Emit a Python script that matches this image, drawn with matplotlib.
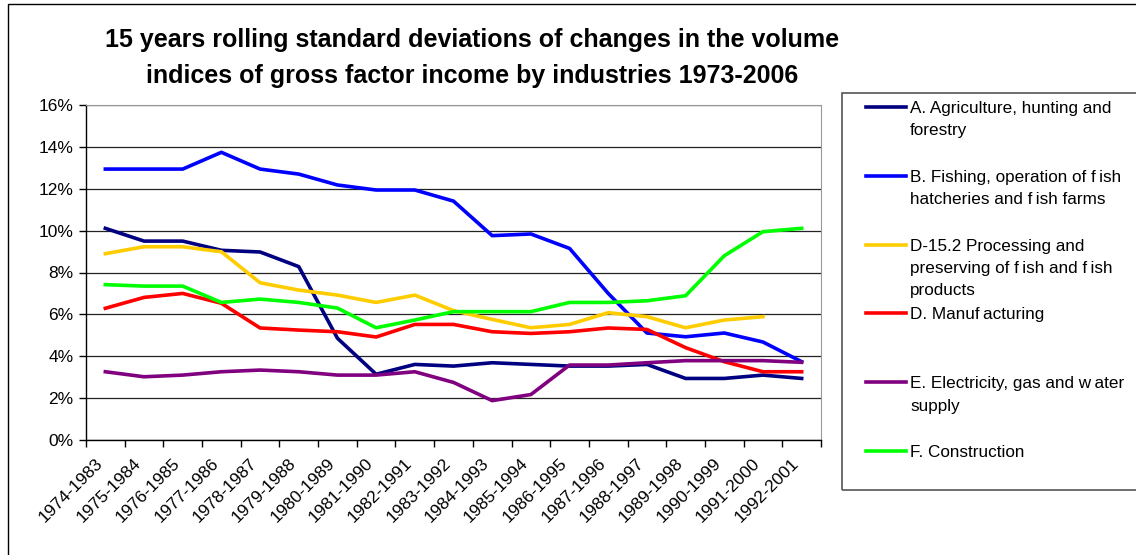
import matplotlib
matplotlib.use("Agg")
import matplotlib.pyplot as plt
from matplotlib.lines import Line2D
from matplotlib.patches import Rectangle
import numpy as np

plt.rcParams['font.family'] = ['Liberation Sans', 'DejaVu Sans']

# Periodos (ventanas de 10 anios)
periodos = ["1974-1983", "1975-1984", "1976-1985", "1977-1986", "1978-1987",
            "1979-1988", "1980-1989", "1981-1990", "1982-1991", "1983-1992",
            "1984-1993", "1985-1994", "1986-1995", "1987-1996", "1988-1997",
            "1989-1998", "1990-1999", "1991-2000", "1992-2001"]

# Desviaciones estandar (%)
agricultura = [10.11, 9.50, 9.50, 9.06, 8.98, 8.28, 4.86, 3.14, 3.61, 3.53,
               3.69, 3.61, 3.53, 3.53, 3.61, 2.94, 2.94, 3.10, 2.94]
pesca = [12.94, 12.94, 12.94, 13.74, 12.94, 12.70, 12.18, 11.94, 11.94, 11.41,
         9.76, 9.84, 9.15, 7.00, 5.11, 4.93, 5.11, 4.68, 3.74]
procesamiento = [8.90, 9.23, 9.23, 8.99, 7.51, 7.16, 6.92, 6.57, 6.92, 6.18,
                 5.76, 5.36, 5.52, 6.08, 5.89, 5.36, 5.73, 5.89, np.nan]
manufactura = [6.29, 6.81, 7.00, 6.53, 5.35, 5.25, 5.17, 4.92, 5.52, 5.52,
               5.17, 5.09, 5.17, 5.35, 5.28, 4.41, 3.74, 3.26, 3.26]
electricidad = [3.26, 3.02, 3.10, 3.26, 3.34, 3.26, 3.10, 3.10, 3.26, 2.75,
                1.88, 2.17, 3.58, 3.58, 3.69, 3.79, 3.79, 3.79, 3.71]
construccion = [7.42, 7.35, 7.35, 6.57, 6.73, 6.57, 6.30, 5.36, 5.73, 6.13,
                6.13, 6.13, 6.57, 6.57, 6.65, 6.89, 8.80, 9.95, 10.11]

series = [agricultura, pesca, procesamiento, manufactura, electricidad, construccion]
etiquetas = ["A. Agriculture, hunting and\nforestry",
             "B. Fishing, operation of f\u2009ish\nhatcheries and f\u2009ish farms",
             "D-15.2 Processing and\npreserving of f\u2009ish and f\u2009ish\nproducts",
             "D. Manuf\u2009acturing",
             "E. Electricity, gas and w\u2009ater\nsupply",
             "F. Construction"]
colores = ["#000080", "#0000FF", "#FFCC00", "#FF0000", "#800080", "#00FF00"]

titulo = ("15 years rolling standard deviations of changes in the volume\n"
          "indices of gross factor income by industries 1973-2006")

W, H = 1136, 555
fig = plt.figure(figsize=(W / 100, H / 100), dpi=100)

# Marco exterior
fig.patches.append(Rectangle((8 / W, -0.1), 1.2, 1 - 4 / H + 0.1, transform=fig.transFigure,
                             fill=False, edgecolor="black", linewidth=1.0))

ax = fig.add_axes([86 / W, 1 - 440 / H, (821 - 86) / W, (440 - 105) / H])

x = np.arange(len(periodos))
for datos, color in zip(series, colores):
    ax.plot(x, datos, color=color, linewidth=2.6, solid_joinstyle="round")

ax.set_xlim(-0.5, len(periodos) - 0.5)
ax.set_ylim(0, 16)
ax.set_yticks(np.arange(0, 17, 2))
ax.set_yticklabels(["%d%%" % v for v in range(0, 17, 2)], fontsize=12.5)
ax.yaxis.grid(True, color="#222222", linewidth=0.9)
ax.set_axisbelow(True)

# marcas entre categorias, etiquetas en el centro
ax.set_xticks(np.arange(-0.5, len(periodos), 1.0))
ax.set_xticklabels([])
ax.set_xticks(x, minor=True)
ax.set_xticklabels(periodos, minor=True, rotation=45, ha="right", fontsize=12.5)
ax.tick_params(axis="x", which="minor", length=0, pad=11)
ax.tick_params(axis="x", which="major", length=5, width=1, direction="out")
ax.tick_params(axis="y", length=5, width=1, direction="out", pad=4)

ax.spines["top"].set_color("#999999")
ax.spines["right"].set_color("#999999")
ax.spines["left"].set_linewidth(1.0)
ax.spines["bottom"].set_linewidth(1.0)

fig.text(472 / W, 1 - 58 / H, titulo, ha="center", va="center", fontsize=18,
         fontweight="bold", linespacing=1.65)

# Leyenda dibujada a mano
fig.patches.append(Rectangle((842 / W, 1 - 490 / H), 1.0, (490 - 93) / H,
                             transform=fig.transFigure, fill=False,
                             edgecolor="#555555", linewidth=1.2))
y0, paso = 107, 68.8
for i, (etiqueta, color) in enumerate(zip(etiquetas, colores)):
    yy = 1 - (y0 + i * paso) / H
    fig.lines.append(Line2D([866 / W, 906 / W], [yy, yy], transform=fig.transFigure,
                            color=color, linewidth=2.6))
    fig.text(910 / W, yy + 6 / H, etiqueta, ha="left", va="top", fontsize=12.3,
             linespacing=1.62)

fig.savefig("out.png", dpi=100)
